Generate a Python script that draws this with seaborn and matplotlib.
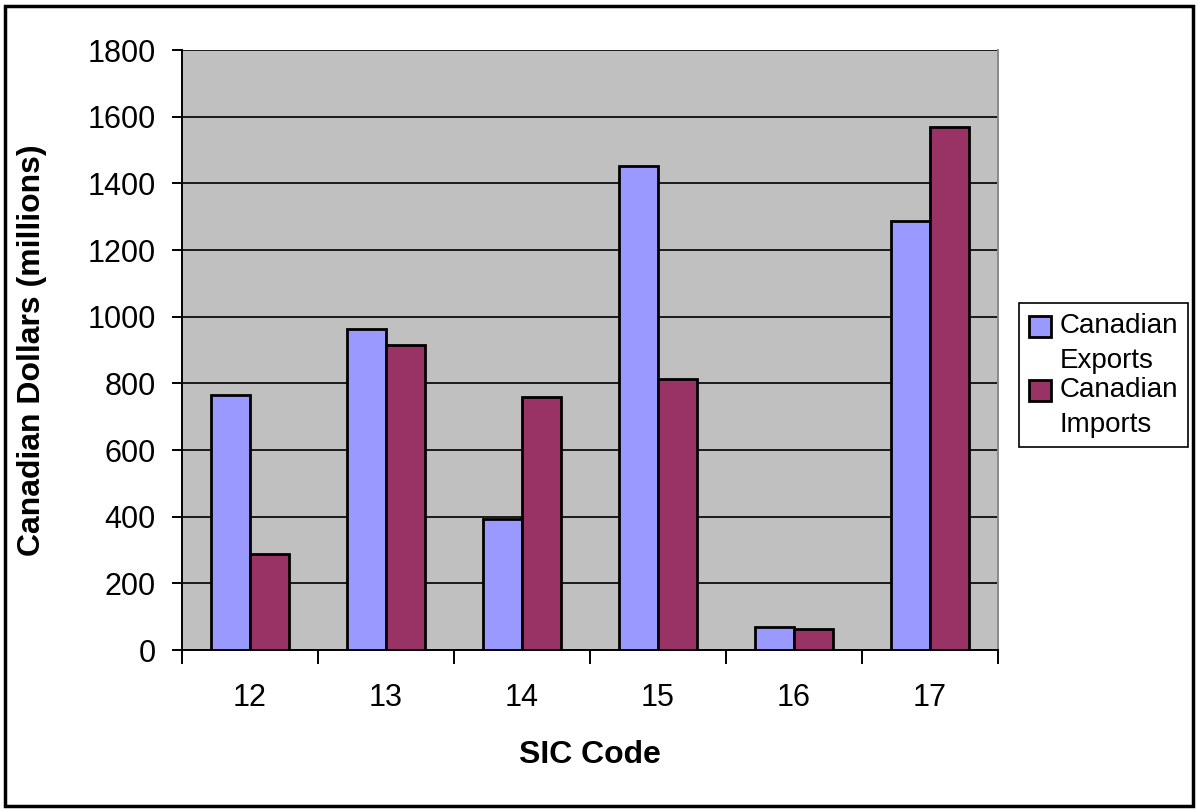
import matplotlib
matplotlib.use("Agg")
import matplotlib.pyplot as plt
from matplotlib.patches import Rectangle
from matplotlib.legend_handler import HandlerPatch
from matplotlib.ticker import FixedLocator, MultipleLocator
import pandas as pd
import seaborn as sns

# Trade values by SIC code (millions of Canadian dollars)
sic_codes = ["12", "13", "14", "15", "16", "17"]
exports = [765, 963, 394, 1451, 70, 1288]
imports = [289, 915, 758, 813, 64, 1569]
series_names = ["Canadian\nExports", "Canadian\nImports"]
y_ticks = [0, 200, 400, 600, 800, 1000, 1200, 1400, 1600, 1800]

df = pd.DataFrame({
    "SIC Code": sic_codes * 2,
    "Value": exports + imports,
    "Series": [series_names[0]] * len(sic_codes) + [series_names[1]] * len(sic_codes),
})

sns.set_theme(style="white")
plt.rcParams["font.family"] = ["Liberation Sans", "DejaVu Sans"]
plt.rcParams["text.color"] = "black"
plt.rcParams["axes.labelcolor"] = "black"
plt.rcParams["xtick.color"] = "black"
plt.rcParams["ytick.color"] = "black"

fig = plt.figure(figsize=(11.99, 8.11), dpi=100)
ax = fig.add_axes([182 / 1199, 1 - 650 / 811, (998 - 182) / 1199, 600 / 811])
ax.set_facecolor("#C0C0C0")

sns.barplot(
    data=df, x="SIC Code", y="Value", hue="Series", order=sic_codes,
    palette=["#9999FF", "#993366"], width=0.57, edgecolor="black",
    linewidth=2, saturation=1, ax=ax, zorder=3,
)

ax.set_ylim(0, 1800)
ax.set_xlim(-0.5, len(sic_codes) - 0.5)
ax.yaxis.set_major_locator(FixedLocator(y_ticks))
ax.yaxis.grid(True, color="#1a1a1a", linewidth=1.4, zorder=1)
ax.set_axisbelow(True)

# category boundary tick marks below the axis
ax.xaxis.set_minor_locator(MultipleLocator(1, offset=0.5))
ax.tick_params(axis="x", which="major", length=0, pad=24, labelsize=22)
ax.tick_params(axis="x", which="minor", length=10, width=1.4, color="black",
               direction="out", bottom=True)
ax.tick_params(axis="y", which="major", length=7, width=1.4, color="black",
               direction="out", left=True, pad=12, labelsize=22)

for side in ["left", "bottom"]:
    ax.spines[side].set_color("black")
    ax.spines[side].set_linewidth(1.4)
ax.spines["right"].set_color("#8a8a8a")
ax.spines["right"].set_linewidth(1.4)
ax.spines["top"].set_visible(False)

ax.set_xlabel("SIC Code", fontsize=23, fontweight="bold", labelpad=19)
ax.set_ylabel("Canadian Dollars (millions)", fontsize=23, fontweight="bold",
              labelpad=29)


def top_square(legend, orig_handle, xdescent, ydescent, width, height, fontsize):
    # place the swatch level with the first line of a two-line label
    return Rectangle((-xdescent, -ydescent + 0.62 * fontsize), width, height)


handles, labels = ax.get_legend_handles_labels()
leg = ax.legend(
    handles, labels, loc="upper left",
    bbox_to_anchor=(1019 / 1199, 1 - 303 / 811), bbox_transform=fig.transFigure,
    fontsize=20, frameon=True, fancybox=False, edgecolor="black",
    framealpha=1, handlelength=0.8, handleheight=0.8, handletextpad=0.3,
    labelspacing=0.1, borderpad=0.35, borderaxespad=0,
    handler_map={h: HandlerPatch(patch_func=top_square) for h in handles},
)
leg.get_frame().set_linewidth(1.2)
for t in leg.get_texts():
    t.set_linespacing(1.45)

# outer chart border
fig.patches.append(Rectangle((5 / 1199, 5 / 811), 1188 / 1199, 800 / 811,
                             transform=fig.transFigure, fill=False,
                             edgecolor="black", linewidth=2.5))

fig.savefig("out.png", dpi=100)
